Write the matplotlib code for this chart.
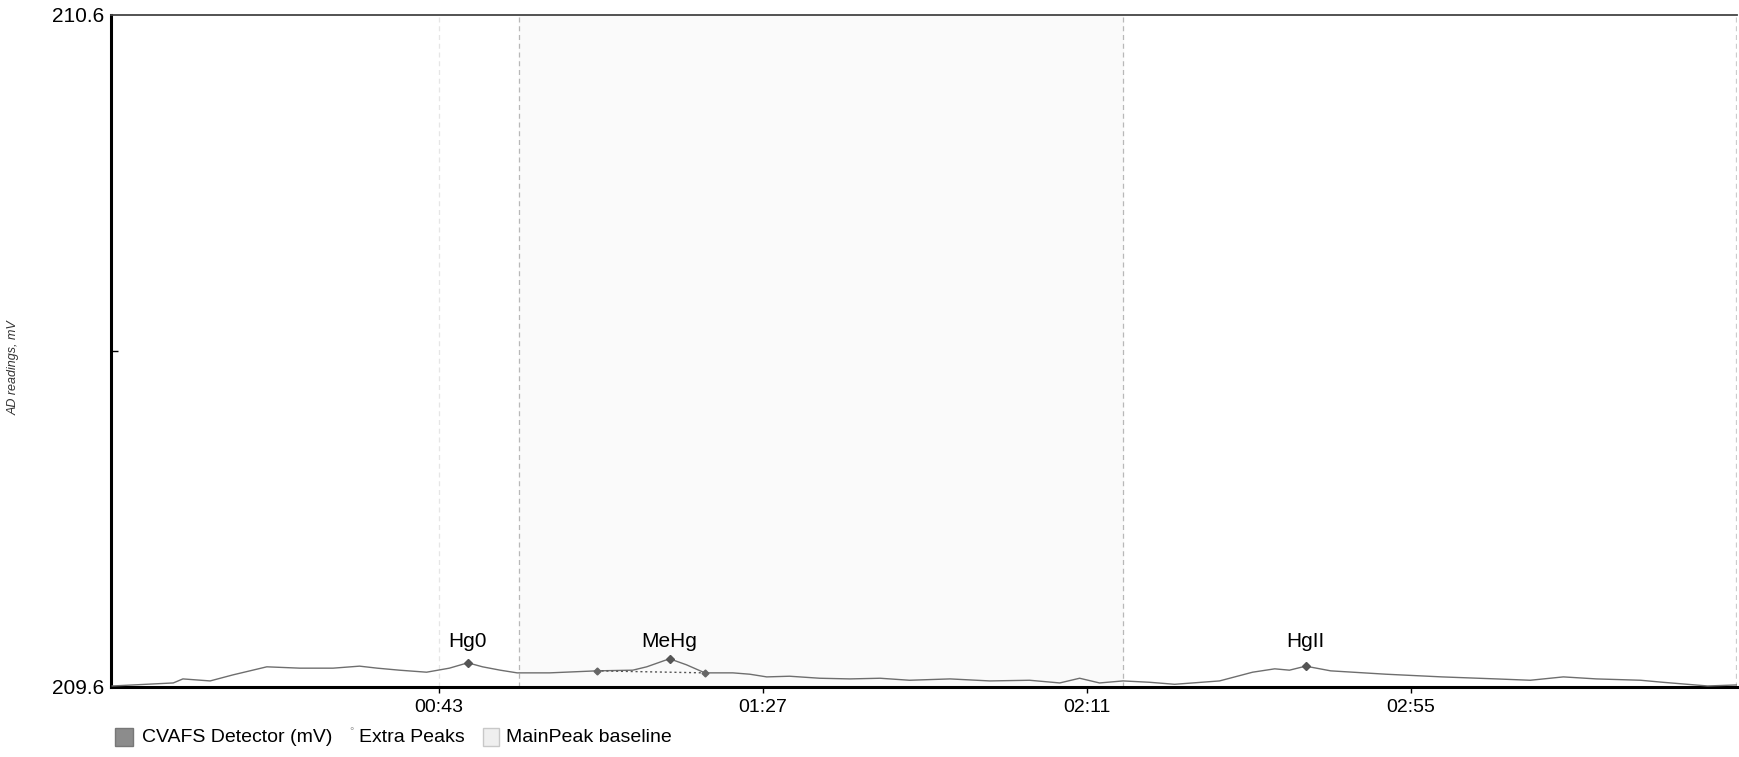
import matplotlib
matplotlib.use("Agg")
import matplotlib.pyplot as plt
from matplotlib.patches import Rectangle
from matplotlib.ticker import FixedLocator, FuncFormatter

plt.rcParams["font.family"] = ["Liberation Sans", "DejaVu Sans"]

# CVAFS detector trace (time in s, signal in mV)
time_s = [-1.4, 1.4, 6.9, 8.2, 11.9, 15.0, 19.6, 24.1, 28.6, 32.2, 34.6, 37.6,
          41.3, 44.4, 46.9, 48.9, 51.3, 53.6, 58.0, 64.4, 69.3, 71.2, 74.3,
          76.6, 79.1, 82.9, 85.2, 87.5, 90.6, 94.7, 98.8, 102.9, 106.9, 112.4,
          117.8, 123.2, 127.3, 130.0, 132.7, 135.9, 139.5, 142.9, 149.0, 153.5,
          156.5, 158.5, 160.7, 164.1, 171.6, 179.2, 186.6, 191.2, 195.7, 200.2,
          206.2, 209.2, 215.3, 219.2]
signal_mv = [209.6015, 209.603, 209.606, 209.612, 209.609, 209.618, 209.630,
             209.628, 209.628, 209.631, 209.628, 209.625, 209.622, 209.628,
             209.636, 209.630, 209.625, 209.621, 209.621, 209.624, 209.625,
             209.630, 209.642, 209.633, 209.621, 209.621, 209.619, 209.615,
             209.616, 209.613, 209.612, 209.613, 209.610, 209.612, 209.609,
             209.610, 209.606, 209.613, 209.606, 209.609, 209.607, 209.604,
             209.609, 209.622, 209.627, 209.625, 209.631, 209.624, 209.619,
             209.615, 209.612, 209.610, 209.615, 209.612, 209.610, 209.607,
             209.6015, 209.603]

# identified peaks
peak_names = ["Hg0", "MeHg", "HgII"]
peak_time = [46.9, 74.3, 160.7]
peak_mv = [209.636, 209.642, 209.631]

# MeHg integration baseline (start / end points)
base_time = [64.4, 79.1]
base_mv = [209.624, 209.621]

# peak window boundaries
window_edges = [53.8, 135.9]
tick_seconds = [43, 87, 131, 175]

legend_labels = ["CVAFS Detector (mV)", "Extra Peaks", "MainPeak baseline"]

W, H = 1739, 757
fig = plt.figure(figsize=(W / 100, H / 100), dpi=100)
ax = fig.add_axes([0.0641, 0.0925, 0.9348, 0.8877])

ax.set_xlim(-1.5, 219.3)
ax.set_ylim(209.6, 210.6)

# shaded MeHg window
ax.axvspan(window_edges[0], window_edges[1], color="#fafafa", zorder=0)
for x in window_edges:
    ax.axvline(x, color="#b8b8b8", lw=0.9, ls=(0, (4, 3)), zorder=1)
ax.axvline(43, color="#e6e6e6", lw=0.9, ls=(0, (4, 3)), zorder=1)
ax.axvline(219.1, color="#cccccc", lw=0.9, ls=(0, (4, 3)), zorder=1)

ax.plot(time_s, signal_mv, color="#6e6e6e", lw=1.0, zorder=3)
ax.plot(base_time, base_mv, color="#555555", lw=1.0, ls=(0, (1.5, 2)), zorder=3)
ax.plot(base_time, base_mv, "D", color="#666666", ms=3.5, zorder=4)
ax.plot(peak_time, peak_mv, "D", color="#555555", ms=4, zorder=4)

for name, t in zip(peak_names, peak_time):
    ax.text(t, 209.668, name, ha="center", va="center", fontsize=15)

# axes styling
ax.spines["right"].set_visible(False)
ax.spines["top"].set_color("#444444")
ax.spines["top"].set_linewidth(1.3)
ax.spines["left"].set_linewidth(2.2)
ax.spines["bottom"].set_linewidth(2.2)

ax.xaxis.set_major_locator(FixedLocator(tick_seconds))
ax.xaxis.set_major_formatter(FuncFormatter(lambda v, p: f"{int(v) // 60:02d}:{int(v) % 60:02d}"))
ax.tick_params(axis="x", length=4, width=1, labelsize=14, pad=5)

ax.set_yticks([209.6, 210.6])
ax.set_yticklabels(["209.6", "210.6"])
ax.yaxis.set_minor_locator(FixedLocator([210.1]))
ax.tick_params(axis="y", which="major", length=0, labelsize=15, pad=5)
ax.tick_params(axis="y", which="minor", direction="in", length=5, width=1)

fig.text(0.008, 0.515, "AD readings, mV", rotation=90, fontsize=9,
         style="italic", color="#333333", ha="center", va="center")

# legend row drawn in figure pixels
ly = 1 - 737 / H
box = 18
fig.patches.append(Rectangle((115 / W, ly - box / 2 / H), box / W, box / H,
                             transform=fig.transFigure, facecolor="#8c8c8c",
                             edgecolor="#777777", lw=1))
fig.text(142 / W, ly, legend_labels[0], fontsize=14, va="center")
fig.text(349 / W, ly + 6 / H, "°", fontsize=8, color="#999999", va="center")
fig.text(359 / W, ly, legend_labels[1], fontsize=14, va="center")
fig.patches.append(Rectangle((483 / W, ly - box / 2 / H), 16 / W, box / H,
                             transform=fig.transFigure, facecolor="#efefef",
                             edgecolor="#c8c8c8", lw=1))
fig.text(506 / W, ly, legend_labels[2], fontsize=14, va="center")

fig.savefig("out.png", dpi=100)
